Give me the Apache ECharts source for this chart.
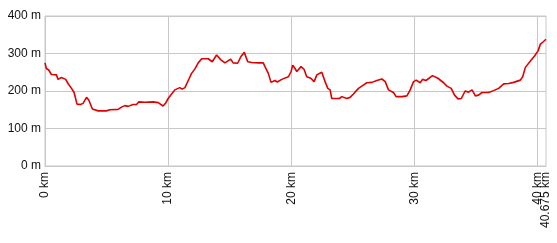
<!DOCTYPE html>
<html>
<head>
<meta charset="utf-8">
<script src="https://cdn.jsdelivr.net/npm/echarts@6/dist/echarts.min.js"></script>
<style>
  html, body { margin: 0; padding: 0; background: #fff; }
  #main { width: 557px; height: 243px; }
</style>
</head>
<body>
<div id="main"></div>
<script>
"use strict";

// Distanz (km) und Höhe (m) entlang der Strecke
const distKm = [
  0, 0.11, 0.30, 0.52, 0.93, 1.06, 1.33, 1.68, 1.87, 2.15, 2.36, 2.60, 2.88, 3.09, 3.37, 3.55, 3.85,
  4.31, 4.99, 5.26, 5.93, 6.21, 6.48, 6.75, 7.15, 7.43, 7.62, 8.10, 8.78, 9.19, 9.59, 9.80, 10.00,
  10.28, 10.54, 10.95, 11.14, 11.36, 11.63, 11.90, 12.17, 12.44, 12.72, 13.25, 13.58, 13.93, 14.28,
  14.61, 15.07, 15.28, 15.64, 15.91, 16.18, 16.46, 16.78, 17.32, 17.72, 17.86, 18.13, 18.35, 18.67,
  18.86, 19.22, 19.76, 19.98, 20.11, 20.30, 20.44, 20.79, 21.03, 21.25, 21.58, 21.85, 22.07, 22.47,
  22.74, 22.96, 23.15, 23.28, 23.55, 23.90, 24.10, 24.50, 24.77, 25.04, 25.45, 25.72, 26.13, 26.54,
  26.94, 27.35, 27.62, 27.89, 28.29, 28.51, 28.98, 29.38, 29.65, 29.92, 30.14, 30.46, 30.65, 30.93,
  31.46, 31.90, 32.36, 32.63, 32.98, 33.25, 33.53, 33.80, 34.11, 34.39, 34.67, 34.94, 35.20, 35.48,
  36.02, 36.42, 36.83, 37.24, 37.64, 38.05, 38.59, 38.78, 39.00, 39.41, 39.76, 40.03, 40.22, 40.41,
  40.675
];
const elevM = [
  275, 260, 256, 244, 243, 231, 236, 231, 220, 207, 196, 165, 164, 167, 183, 176, 152,
  147, 147, 150, 151, 157, 161, 159, 164, 164, 171, 170, 171, 169, 160, 168, 180,
  192, 203, 209, 205, 209, 228, 247, 259, 275, 286, 286, 278, 296, 283,
  275, 285, 275, 274, 292, 303, 278, 276, 275, 275, 265, 247, 223, 228,
  224, 231, 238, 252, 269, 260, 252, 265, 258, 238, 234, 225, 243, 250,
  225, 207, 203, 180, 180, 180, 185, 180, 183, 192, 207, 213, 222, 223,
  228, 232, 225, 203, 196, 185, 185, 187, 203, 225, 229, 222, 231, 228,
  241, 234, 222, 213, 207, 189, 179, 180, 200, 197, 203, 187, 189, 196,
  196, 201, 207, 219, 220, 223, 229, 238, 263, 280, 294, 307, 325, 330,
  338
];
const totalKm = 40.675;
const kmTicks = [0, 10, 20, 30, 40];

let points = distKm.map((d, i) => [d, elevM[i]]);

const labelFont = {
  rotate: 90,
  margin: 6,
  color: '#111',
  fontFamily: 'Liberation Sans, Arial, sans-serif',
  fontSize: 12,
  hideOverlap: false,
};

let myChart = echarts.init(document.getElementById('main'));

let option = {
  animation: false,
  grid: {
    left: 45,
    right: 11,
    top: 16,
    bottom: 77,
    show: true,
    borderColor: '#c8c8c8',
    borderWidth: 1,
  },
  xAxis: [
    {
      type: 'value',
      min: 0,
      max: totalKm,
      axisLine: { show: true, lineStyle: { color: '#c8c8c8' } },
      axisTick: { show: false, customValues: kmTicks },
      splitLine: { show: true, lineStyle: { color: '#c8c8c8', width: 1 } },
      axisLabel: Object.assign({}, labelFont, {
        customValues: kmTicks,
        formatter: '{value} km',
      }),
    },
    {
      // nur für die Gesamtlänge am Ende
      type: 'value',
      position: 'bottom',
      min: 0,
      max: totalKm,
      axisLine: { show: false },
      axisTick: { show: false },
      splitLine: { show: false },
      axisLabel: Object.assign({}, labelFont, {
        customValues: [totalKm],
        showMaxLabel: true,
        formatter: () => '40.675 km',
      }),
    },
  ],
  yAxis: {
    type: 'value',
    min: 0,
    max: 400,
    interval: 100,
    axisLine: { show: false },
    axisTick: { show: false },
    splitLine: { show: true, lineStyle: { color: '#c8c8c8', width: 1 } },
    axisLabel: {
      margin: 4,
      color: '#111',
      fontFamily: 'Liberation Sans, Arial, sans-serif',
      fontSize: 12,
      formatter: '{value} m',
    },
  },
  series: [
    {
      type: 'line',
      xAxisIndex: 0,
      data: points,
      showSymbol: false,
      lineStyle: { color: '#e00000', width: 1.6 },
    },
  ],
};

myChart.setOption(option);
</script>
</body>
</html>
